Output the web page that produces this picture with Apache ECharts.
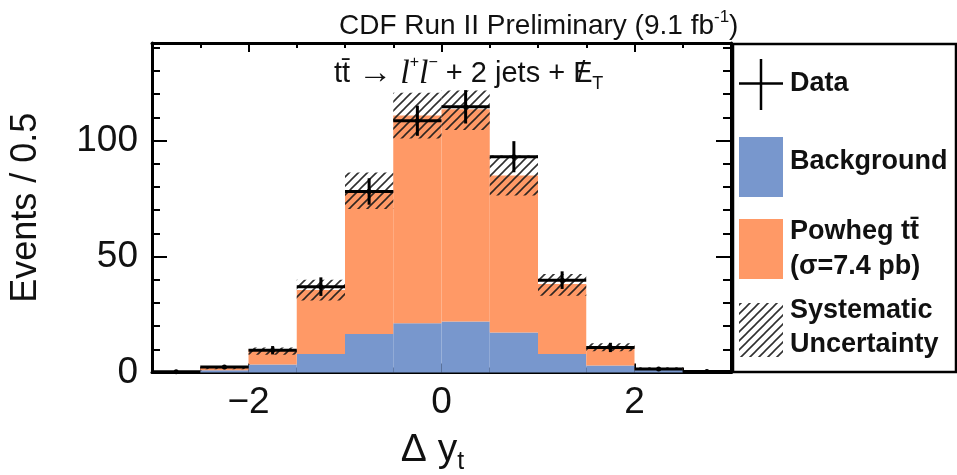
<!DOCTYPE html>
<html>
<head>
<meta charset="utf-8">
<script src="https://cdn.jsdelivr.net/npm/echarts@6/dist/echarts.min.js"></script>
<style>
  html, body { margin: 0; padding: 0; background: #fff; }
  #main { width: 957px; height: 475px; }
</style>
</head>
<body>
<div id="main"></div>
<script>
// Δy_t histogram: 12 bins of width 0.5 between -3 and 3
const binLow = [-3, -2.5, -2, -1.5, -1, -0.5, 0, 0.5, 1, 1.5, 2, 2.5];
const binWidth = 0.5;

// stacked predictions (events / 0.5)
const background = [0.2, 1.0, 3.4, 8.0, 16.6, 21.2, 22.0, 17.2, 8.0, 3.0, 1.1, 0.6];
const powhegTT   = [0.1, 0.9, 6.6, 27.6, 61.7, 89.6, 91.4, 67.7, 30.1, 8.2, 0.7, 0.1];

// systematic uncertainty band on the total prediction
const systLow  = [0.1, 1.4, 7.6, 31.0, 70.5, 100.8, 104.5, 76.3, 33.1, 9.2, 1.3, 0.3];
const systHigh = [0.5, 2.4, 10.8, 40.0, 86.2, 120.6, 121.5, 93.5, 42.5, 12.6, 2.3, 0.9];

// observed data with statistical errors
const dataVals = [0.3, 2.4, 9.6, 37.0, 78.0, 108.5, 114.5, 93.0, 39.8, 10.8, 1.5, 0.4];
const dataErr  = [0.3, 0.8, 1.8, 4.0, 5.7, 6.5, 7.2, 6.7, 3.8, 2.0, 0.8, 0.3];

// axis ticks
const xMajorTicks = [-2, 0, 2];
const xMinorTicks = [-3, -2.5, -2, -1.5, -1, -0.5, 0, 0.5, 1, 1.5, 2, 2.5, 3];
const yMajorTicks = [0, 50, 100];
const yMinorTicks = [0, 10, 20, 30, 40, 50, 60, 70, 80, 90, 100, 110, 120, 130, 140];
const yMax = 142;

const BLUE = '#7897cd';
const ORANGE = '#ff9966';
const SANS = 'Liberation Sans, Arial, Helvetica, sans-serif';
const SERIF = 'Liberation Serif, Times New Roman, serif';

// diagonal hatch tile for the systematic band
function hatchTile() {
  const s = 9;
  const c = document.createElement('canvas');
  c.width = s; c.height = s;
  const g = c.getContext('2d');
  g.strokeStyle = 'rgba(25,25,25,0.9)';
  g.lineWidth = 1.6;
  g.beginPath();
  g.moveTo(0, s); g.lineTo(s, 0);
  g.moveTo(-2, 2); g.lineTo(2, -2);
  g.moveTo(s - 2, s + 2); g.lineTo(s + 2, s - 2);
  g.stroke();
  return c;
}
const hatch = { image: hatchTile(), repeat: 'repeat' };

function binRect(params, api, style) {
  const x0 = api.value(0), x1 = api.value(1), y0 = api.value(2), y1 = api.value(3);
  const pTop = api.coord([x0, y1]);
  const pBot = api.coord([x1, y0]);
  return {
    type: 'rect',
    shape: { x: pTop[0], y: pTop[1], width: pBot[0] - pTop[0], height: pBot[1] - pTop[1] },
    style: style
  };
}

const bgItems = binLow.map((l, i) => [l, l + binWidth, 0, background[i]]);
const ttItems = binLow.map((l, i) => [l, l + binWidth, background[i], background[i] + powhegTT[i]]);
const sysItems = binLow.map((l, i) => [l, l + binWidth, systLow[i], systHigh[i]]);
const dataItems = binLow.map((l, i) => [l + binWidth / 2, dataVals[i], dataErr[i], l, l + binWidth]);

const minus = v => String(v).replace('-', '\u2212');

const chart = echarts.init(document.getElementById('main'), null, { renderer: 'canvas' });

const tickLine = { color: '#000', width: 2 };

chart.setOption({
  animation: false,
  backgroundColor: '#fff',
  title: {
    text: 'CDF Run II Preliminary (9.1 fb{sup|-1})',
    left: 334, top: 4,
    textStyle: {
      fontFamily: SANS, fontSize: 28, fontWeight: 'normal', color: '#111',
      lineHeight: 34,
      rich: { sup: { fontFamily: SANS, fontSize: 17, verticalAlign: 'top', lineHeight: 34, color: '#111' } }
    }
  },
  grid: { left: 152, right: 226, top: 43, bottom: 102.5, containLabel: false, outerBoundsMode: 'none' },
  xAxis: [
    {
      type: 'value', min: -3, max: 3, position: 'bottom',
      axisLine: { show: true, onZero: false, lineStyle: { color: '#000', width: 3 } },
      axisTick: { show: true, inside: true, length: 9, customValues: xMajorTicks, lineStyle: tickLine },
      axisLabel: {
        customValues: xMajorTicks, formatter: minus, margin: 12,
        fontFamily: SANS, fontSize: 37, color: '#111'
      },
      splitLine: { show: false },
      name: '\u0394 y{sub|t}', nameLocation: 'middle', nameGap: 49,
      nameTextStyle: {
        fontFamily: SANS, fontSize: 39, color: '#111', lineHeight: 48, padding: [0, 18, 0, 0],
        rich: { sub: { fontFamily: SANS, fontSize: 25, verticalAlign: 'bottom', lineHeight: 20, color: '#111' } }
      }
    },
    {
      type: 'value', min: -3, max: 3, position: 'bottom',
      axisLine: { show: false, onZero: false },
      axisTick: { show: true, inside: true, length: 5, customValues: xMinorTicks, lineStyle: tickLine },
      axisLabel: { show: false }, splitLine: { show: false }
    },
    {
      type: 'value', min: -3, max: 3, position: 'top',
      axisLine: { show: true, onZero: false, lineStyle: { color: '#000', width: 3 } },
      axisTick: { show: true, inside: true, length: 9, customValues: xMajorTicks, lineStyle: tickLine },
      axisLabel: { show: false }, splitLine: { show: false }
    },
    {
      type: 'value', min: -3, max: 3, position: 'top',
      axisLine: { show: false, onZero: false },
      axisTick: { show: true, inside: true, length: 5, customValues: xMinorTicks, lineStyle: tickLine },
      axisLabel: { show: false }, splitLine: { show: false }
    }
  ],
  yAxis: [
    {
      type: 'value', min: 0, max: yMax, position: 'left',
      axisLine: { show: true, onZero: false, lineStyle: { color: '#000', width: 3 } },
      axisTick: { show: true, inside: true, length: 15, customValues: yMajorTicks, lineStyle: tickLine },
      axisLabel: {
        customValues: yMajorTicks, margin: 14,
        fontFamily: SANS, fontSize: 37, color: '#111'
      },
      splitLine: { show: false },
      name: 'Events / 0.5', nameLocation: 'middle', nameGap: 108, nameRotate: 90,
      nameTextStyle: { fontFamily: SANS, fontSize: 36, color: '#111' }
    },
    {
      type: 'value', min: 0, max: yMax, position: 'left',
      axisLine: { show: false, onZero: false },
      axisTick: { show: true, inside: true, length: 8, customValues: yMinorTicks, lineStyle: tickLine },
      axisLabel: { show: false }, splitLine: { show: false }
    },
    {
      type: 'value', min: 0, max: yMax, position: 'right',
      axisLine: { show: true, onZero: false, lineStyle: { color: '#000', width: 3 } },
      axisTick: { show: true, inside: true, length: 15, customValues: yMajorTicks, lineStyle: tickLine },
      axisLabel: { show: false }, splitLine: { show: false }
    },
    {
      type: 'value', min: 0, max: yMax, position: 'right',
      axisLine: { show: false, onZero: false },
      axisTick: { show: true, inside: true, length: 8, customValues: yMinorTicks, lineStyle: tickLine },
      axisLabel: { show: false }, splitLine: { show: false }
    }
  ],
  series: [
    {
      name: 'Background', type: 'custom', xAxisIndex: 0, yAxisIndex: 0, z: 1,
      data: bgItems, encode: { x: [0, 1], y: [2, 3] },
      renderItem: (p, api) => binRect(p, api, { fill: BLUE })
    },
    {
      name: 'Powheg tt\u0304', type: 'custom', xAxisIndex: 0, yAxisIndex: 0, z: 1,
      data: ttItems, encode: { x: [0, 1], y: [2, 3] },
      renderItem: (p, api) => binRect(p, api, { fill: ORANGE })
    },
    {
      name: 'Systematic Uncertainty', type: 'custom', xAxisIndex: 0, yAxisIndex: 0, z: 2,
      data: sysItems, encode: { x: [0, 1], y: [2, 3] },
      renderItem: (p, api) => binRect(p, api, { fill: hatch })
    },
    {
      name: 'Data', type: 'custom', xAxisIndex: 0, yAxisIndex: 0, z: 3,
      data: dataItems, encode: { x: 0, y: 1 },
      renderItem: (p, api) => {
        const xc = api.value(0), v = api.value(1), e = api.value(2);
        const lo = api.value(3), hi = api.value(4);
        const left = api.coord([lo, v]), right = api.coord([hi, v]);
        const up = api.coord([xc, v + e]), dn = api.coord([xc, Math.max(0, v - e)]);
        const c = api.coord([xc, v]);
        const st = { stroke: '#000', lineWidth: 3 };
        return {
          type: 'group',
          children: [
            { type: 'line', shape: { x1: left[0], y1: left[1], x2: right[0], y2: right[1] }, style: st },
            { type: 'line', shape: { x1: up[0], y1: up[1], x2: dn[0], y2: dn[1] }, style: st },
            { type: 'circle', shape: { cx: c[0], cy: c[1], r: 2.5 }, style: { fill: '#000' } }
          ]
        };
      }
    }
  ],
  graphic: [
    // process label inside the frame: tt̄ → l+l− + 2 jets + missing ET
    {
      type: 'text', left: 334, top: 55, z: 10,
      style: {
        text: 'tt\u0304 {ar|\u2192} {it|l}{sup|+}{it|l}{sup|\u2212} + 2 jets + {e|E}{sl|/}{sub|T}',
        fontFamily: SANS, fontSize: 29, fill: '#111', lineHeight: 38,
        rich: {
          ar: { fontFamily: SANS, fontSize: 34, lineHeight: 38, fill: '#111' },
          it: { fontFamily: SERIF, fontStyle: 'italic', fontSize: 34, lineHeight: 38, fill: '#111' },
          sup: { fontFamily: SANS, fontSize: 16, verticalAlign: 'top', lineHeight: 34, fill: '#111' },
          e: { fontFamily: SANS, fontSize: 29, lineHeight: 38, width: 4, fill: '#111' },
          sl: { fontFamily: SANS, fontSize: 29, lineHeight: 38, width: 15, fill: '#111' },
          sub: { fontFamily: SANS, fontSize: 18, verticalAlign: 'bottom', lineHeight: 22, fill: '#111' }
        }
      }
    },
    // legend panel
    {
      type: 'rect', z: 10,
      shape: { x: 733, y: 44, width: 223, height: 328 },
      style: { fill: 'none', stroke: '#000', lineWidth: 2.5 }
    },
    { type: 'line', z: 11, shape: { x1: 739, y1: 83.5, x2: 783, y2: 83.5 }, style: { stroke: '#000', lineWidth: 2.5 } },
    { type: 'line', z: 11, shape: { x1: 761, y1: 59, x2: 761, y2: 110 }, style: { stroke: '#000', lineWidth: 2.5 } },
    { type: 'rect', z: 11, shape: { x: 739, y: 137, width: 44, height: 60 }, style: { fill: BLUE } },
    { type: 'rect', z: 11, shape: { x: 739, y: 219, width: 44, height: 60 }, style: { fill: ORANGE } },
    { type: 'rect', z: 11, shape: { x: 739, y: 303, width: 44, height: 54 }, style: { fill: hatch } },
    {
      type: 'text', z: 11, left: 790, top: 70,
      style: { text: 'Data', fontFamily: SANS, fontWeight: 'bold', fontSize: 27, fill: '#111' }
    },
    {
      type: 'text', z: 11, left: 790, top: 148,
      style: { text: 'Background', fontFamily: SANS, fontWeight: 'bold', fontSize: 27, fill: '#111' }
    },
    {
      type: 'text', z: 11, left: 790, top: 214,
      style: {
        text: 'Powheg tt\u0304\n(\u03c3=7.4 pb)', fontFamily: SANS, fontWeight: 'bold',
        fontSize: 27, lineHeight: 35, fill: '#111'
      }
    },
    {
      type: 'text', z: 11, left: 790, top: 294,
      style: {
        text: 'Systematic\nUncertainty', fontFamily: SANS, fontWeight: 'bold',
        fontSize: 27, lineHeight: 34, fill: '#111'
      }
    }
  ]
});
</script>
</body>
</html>
